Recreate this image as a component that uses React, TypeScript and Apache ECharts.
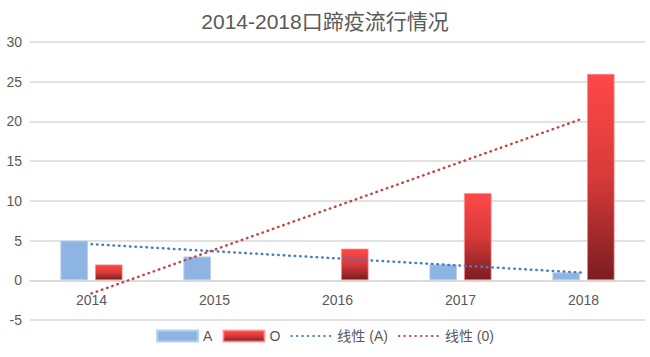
import React, { useEffect, useRef } from "react";
import * as echarts from "echarts";

const title = "2014-2018口蹄疫流行情况";
const categories = ["2014", "2015", "2016", "2017", "2018"];
const seriesA: (number | null)[] = [5, 3, null, 2, 1];
const seriesO: (number | null)[] = [2, null, 4, 11, 26];
// linear trendlines (values at each category)
const trendA = [4.55, 3.65, 2.75, 1.85, 0.95];
const trendO = [-1.66, 3.85, 9.37, 14.88, 20.4];
const names = ["A", "O", "线性 (A)", "线性 (0)"];

export default function App() {
  const ref = useRef<HTMLDivElement>(null);
  useEffect(() => {
    if (!ref.current) return;
    const chart = echarts.init(ref.current, undefined, { renderer: "svg" });
    const font = "'Liberation Sans', 'Noto Sans CJK SC', sans-serif";
    const dotted = [0.5, 5];
    chart.setOption({
      animation: false,
      backgroundColor: "#ffffff",
      title: {
        text: title,
        left: "center",
        top: 6,
        textStyle: { fontSize: 21, fontWeight: "normal", color: "#595959", fontFamily: font },
      },
      legend: {
        bottom: 9,
        left: "center",
        itemWidth: 41,
        itemHeight: 11,
        itemGap: 10,
        textStyle: { fontSize: 14, color: "#595959", fontFamily: font },
        data: [
          { name: names[0], icon: "rect" },
          { name: names[1], icon: "rect" },
          { name: names[2], itemStyle: { opacity: 0 } },
          { name: names[3], itemStyle: { opacity: 0 } },
        ],
      },
      grid: { left: 30, right: 5, top: 42, bottom: 37, containLabel: false },
      xAxis: {
        type: "category",
        data: categories,
        offset: -39.7,
        axisLine: { onZero: false, lineStyle: { color: "#d9d9d9", width: 1.5 } },
        axisTick: { show: false },
        axisLabel: { fontSize: 14, color: "#595959", margin: 13, fontFamily: font },
      },
      yAxis: {
        type: "value",
        min: -5,
        max: 30,
        interval: 5,
        axisLine: { show: false },
        axisTick: { show: false },
        axisLabel: { fontSize: 14, color: "#595959", margin: 8, fontFamily: font },
        splitLine: { lineStyle: { color: "#d9d9d9", width: 1.5 } },
      },
      series: [
        {
          name: names[0],
          type: "bar",
          data: seriesA,
          barWidth: "22.5%",
          barGap: "25%",
          itemStyle: { color: "#8db4e2", borderColor: "#b9d0ec", borderWidth: 1 },
        },
        {
          name: names[1],
          type: "bar",
          data: seriesO,
          barWidth: "22.5%",
          itemStyle: {
            color: new echarts.graphic.LinearGradient(0, 0, 0, 1, [
              { offset: 0, color: "#ff4848" },
              { offset: 0.5, color: "#d83a3a" },
              { offset: 1, color: "#7a1d20" },
            ]),
            borderColor: "rgba(255,140,140,0.7)",
            borderWidth: 1,
          },
        },
        {
          name: names[2],
          type: "line",
          data: trendA,
          symbol: "none",
          lineStyle: { color: "#4a7ebb", width: 2.5, type: dotted, cap: "round" },
          itemStyle: { color: "#4a7ebb" },
        },
        {
          name: names[3],
          type: "line",
          data: trendO,
          symbol: "none",
          lineStyle: { color: "#be4b48", width: 2.5, type: dotted, cap: "round" },
          itemStyle: { color: "#be4b48" },
        },
      ],
    });
    return () => chart.dispose();
  }, []);
  return <div ref={ref} style={{ width: 650, height: 357, position: "absolute", left: 0, top: 0 }} />;
}
